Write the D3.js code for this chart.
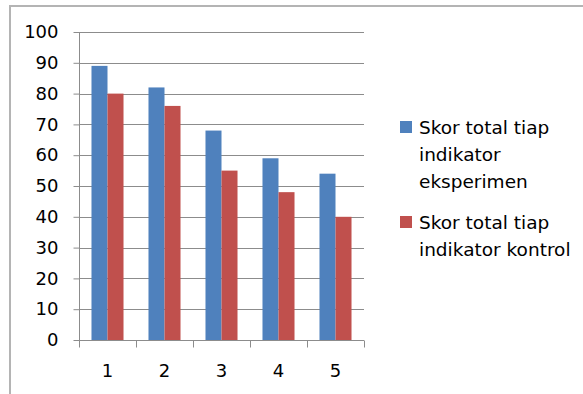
<!DOCTYPE html>
<html lang="en">
<meta charset="utf-8">
<head>
    <script src="https://d3js.org/d3.v7.min.js"></script>
    <style>
        body { margin: 0; background: #fff; }
        text { font-family: "DejaVu Sans", sans-serif; fill: #000; }
    </style>
</head>
<body>
<script>

// data
const categories = ["1", "2", "3", "4", "5"];
const eksperimen = [89, 82, 68, 59, 54];
const kontrol = [80, 76, 55, 48, 40];
const seriesNames = ["Skor total tiap indikator eksperimen", "Skor total tiap indikator kontrol"];
const legendLines = [["Skor total tiap", "indikator", "eksperimen"], ["Skor total tiap", "indikator kontrol"]];
const yTicks = [0, 10, 20, 30, 40, 50, 60, 70, 80, 90, 100];
const colors = ["#4F81BD", "#C0504D"];

const width = 583, height = 394;
const plot = {left: 79, right: 364, top: 32, bottom: 340};

const svg = d3.select("body").append("svg")
    .attr("width", width)
    .attr("height", height);

// chart border (only top and left are visible in the crop)
svg.append("path")
    .attr("d", `M10,${height} V6 H${width}`)
    .attr("fill", "none")
    .attr("stroke", "#b4b4b4")
    .attr("stroke-width", 2);

const x = d3.scaleBand()
    .domain(categories)
    .range([plot.left, plot.right]);

const xSub = d3.scaleBand()
    .domain([0, 1])
    .range([0, x.bandwidth()])
    .paddingOuter(0.78);

const y = d3.scaleLinear()
    .domain([0, 100])
    .range([plot.bottom, plot.top]);

// gridlines
svg.append("g")
    .selectAll("line")
    .data(yTicks.filter(d => d > 0))
    .join("line")
    .attr("x1", plot.left)
    .attr("x2", plot.right)
    .attr("y1", d => Math.round(y(d)) + 0.5)
    .attr("y2", d => Math.round(y(d)) + 0.5)
    .attr("stroke", "#8c8c8c");

// bars
const rows = categories.map((c, i) => ({cat: c, vals: [eksperimen[i], kontrol[i]]}));
svg.append("g")
    .selectAll("g")
    .data(rows)
    .join("g")
    .attr("transform", d => `translate(${x(d.cat)},0)`)
    .selectAll("rect")
    .data(d => d.vals.map((v, k) => ({k: k, v: v})))
    .join("rect")
    .attr("x", d => xSub(d.k))
    .attr("width", xSub.bandwidth())
    .attr("y", d => y(d.v))
    .attr("height", d => y(0) - y(d.v))
    .attr("fill", d => colors[d.k]);

// y axis
const yAxis = svg.append("g")
    .attr("transform", `translate(${plot.left + 0.5},0)`)
    .call(d3.axisLeft(y).tickValues(yTicks).tickSize(6).tickPadding(15));
yAxis.selectAll("line").attr("stroke", "#8c8c8c");
yAxis.select(".domain").attr("stroke", "#8c8c8c").attr("d", `M0,${plot.top}V${plot.bottom}`);
yAxis.selectAll("text").style("font-size", "18px").attr("font-family", null);

// x axis with ticks at category boundaries
const xAxis = svg.append("g")
    .attr("transform", `translate(0,${plot.bottom + 0.5})`);
xAxis.append("line")
    .attr("x1", plot.left)
    .attr("x2", plot.right)
    .attr("stroke", "#8c8c8c");
xAxis.selectAll(".tick")
    .data(categories.map(c => x(c)).concat([plot.right]))
    .join("line")
    .attr("x1", d => Math.round(d) + 0.5)
    .attr("x2", d => Math.round(d) + 0.5)
    .attr("y1", 0)
    .attr("y2", 7)
    .attr("stroke", "#8c8c8c");
xAxis.selectAll("text")
    .data(categories)
    .join("text")
    .attr("x", d => x(d) + x.bandwidth() / 2)
    .attr("y", 36)
    .attr("text-anchor", "middle")
    .style("font-size", "18px")
    .text(d => d);

// legend
const legendTop = [121, 216];
const legend = svg.append("g");
seriesNames.forEach((name, i) => {
    const g = legend.append("g").attr("transform", `translate(400,${legendTop[i]})`);
    g.append("rect")
        .attr("width", 12)
        .attr("height", 12)
        .attr("fill", colors[i]);
    g.append("text")
        .attr("x", 19)
        .attr("y", 13)
        .style("font-size", "18.5px")
        .selectAll("tspan")
        .data(legendLines[i])
        .join("tspan")
        .attr("x", 19)
        .attr("dy", (d, j) => j === 0 ? 0 : 27)
        .text(d => d);
});

</script>
</body>
</html>
